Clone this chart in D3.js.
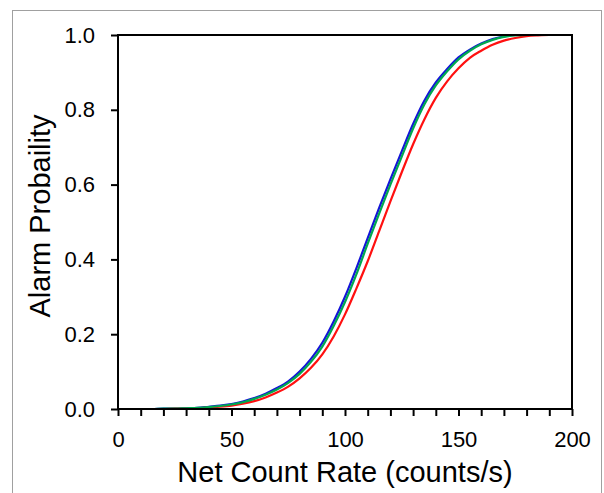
<!DOCTYPE html>
<html>
<head>
<meta charset="utf-8">
<script src="https://cdn.jsdelivr.net/npm/d3@7"></script>
<style>
  body { margin: 0; background: #fff; }
  svg { display: block; font-family: "Liberation Sans", Arial, sans-serif; }
</style>
</head>
<body>
<div id="chart"></div>
<script>
// data (alarm probability vs net count rate)
const rate = [0, 5, 10, 15, 20, 25, 30, 35, 40, 45, 50, 55, 60, 65, 70, 75, 80, 85, 90, 95, 100,
  105, 110, 115, 120, 125, 130, 135, 140, 145, 150, 155, 160, 165, 170, 175, 180, 185, 190, 195, 200];

const blue_prob = [0, 0, 0, 0, 0.001, 0.001, 0.002, 0.003, 0.006, 0.009, 0.013, 0.020, 0.029, 0.041, 0.056, 0.074, 0.100, 0.134, 0.177, 0.234, 0.300,
  0.376, 0.457, 0.537, 0.614, 0.689, 0.762, 0.825, 0.873, 0.909, 0.940, 0.961, 0.977, 0.989, 0.996, 1, 1, 1, 1, 1, 1];

const green_prob = [0, 0, 0, 0, 0.001, 0.001, 0.002, 0.003, 0.005, 0.008, 0.012, 0.018, 0.027, 0.038, 0.052, 0.070, 0.094, 0.126, 0.167, 0.222, 0.286,
  0.360, 0.442, 0.522, 0.600, 0.675, 0.750, 0.815, 0.865, 0.903, 0.935, 0.958, 0.975, 0.987, 0.995, 0.999, 1, 1, 1, 1, 1];

const red_prob = [0, 0, 0, 0, 0, 0.001, 0.001, 0.002, 0.004, 0.006, 0.009, 0.014, 0.021, 0.031, 0.044, 0.060, 0.082, 0.110, 0.146, 0.194, 0.253,
  0.322, 0.395, 0.475, 0.555, 0.633, 0.708, 0.775, 0.832, 0.876, 0.911, 0.939, 0.958, 0.974, 0.985, 0.992, 0.997, 0.999, 1, 1, 1];

const y_ticks = [0, 0.2, 0.4, 0.6, 0.8, 1.0];
const x_ticks = d3.range(0, 201, 10);

// layout
const W = 604, H = 493;
const plot = { left: 118, right: 572, top: 35, bottom: 409 };

const svg = d3.select("#chart").append("svg")
  .attr("width", W)
  .attr("height", H);

// outer frame
svg.append("rect")
  .attr("x", 12.5).attr("y", 10.5)
  .attr("width", 589).attr("height", 500)
  .attr("fill", "none")
  .attr("stroke", "#a0a0a0")
  .attr("stroke-width", 1);

const x = d3.scaleLinear().domain([0, 200]).range([plot.left, plot.right]);
const y = d3.scaleLinear().domain([0, 1]).range([plot.bottom, plot.top]);

// axes
const x_axis = svg.append("g")
  .attr("transform", `translate(0,${plot.bottom})`)
  .call(d3.axisBottom(x)
    .tickValues(x_ticks)
    .tickSize(7)
    .tickPadding(15)
    .tickFormat(d => d % 50 === 0 ? d : ""));

const y_axis = svg.append("g")
  .attr("transform", `translate(${plot.left},0)`)
  .call(d3.axisLeft(y)
    .tickValues(y_ticks)
    .tickSize(7)
    .tickPadding(16)
    .tickFormat(d3.format(".1f")));

[x_axis, y_axis].forEach(g => {
  g.select(".domain").remove();
  g.selectAll(".tick line").attr("stroke", "#000").attr("stroke-width", 2);
  g.selectAll(".tick text")
    .attr("fill", "#000")
    .style("font-size", "22px")
    .style("font-family", "'Liberation Sans', Arial, sans-serif");
});

// curves
const series = [
  { values: blue_prob, color: "#1414d8" },
  { values: red_prob, color: "#ff1010" },
  { values: green_prob, color: "#00a84f" }
];

const line = d3.line()
  .x((d, i) => x(rate[i]))
  .y(d => y(d))
  .curve(d3.curveMonotoneX);

series.forEach(s => {
  svg.append("path")
    .datum(s.values)
    .attr("fill", "none")
    .attr("stroke", s.color)
    .attr("stroke-width", 2.2)
    .attr("stroke-linejoin", "round")
    .attr("d", line);
});

// plot box
svg.append("rect")
  .attr("x", plot.left).attr("y", plot.top)
  .attr("width", plot.right - plot.left)
  .attr("height", plot.bottom - plot.top)
  .attr("fill", "none")
  .attr("stroke", "#000")
  .attr("stroke-width", 2);

// titles
svg.append("text")
  .attr("x", (plot.left + plot.right) / 2)
  .attr("y", 482)
  .attr("text-anchor", "middle")
  .style("font-size", "29px")
  .text("Net Count Rate (counts/s)");

svg.append("text")
  .attr("transform", "translate(50,216) rotate(-90)")
  .attr("text-anchor", "middle")
  .style("font-size", "29px")
  .text("Alarm Probaility");
</script>
</body>
</html>
